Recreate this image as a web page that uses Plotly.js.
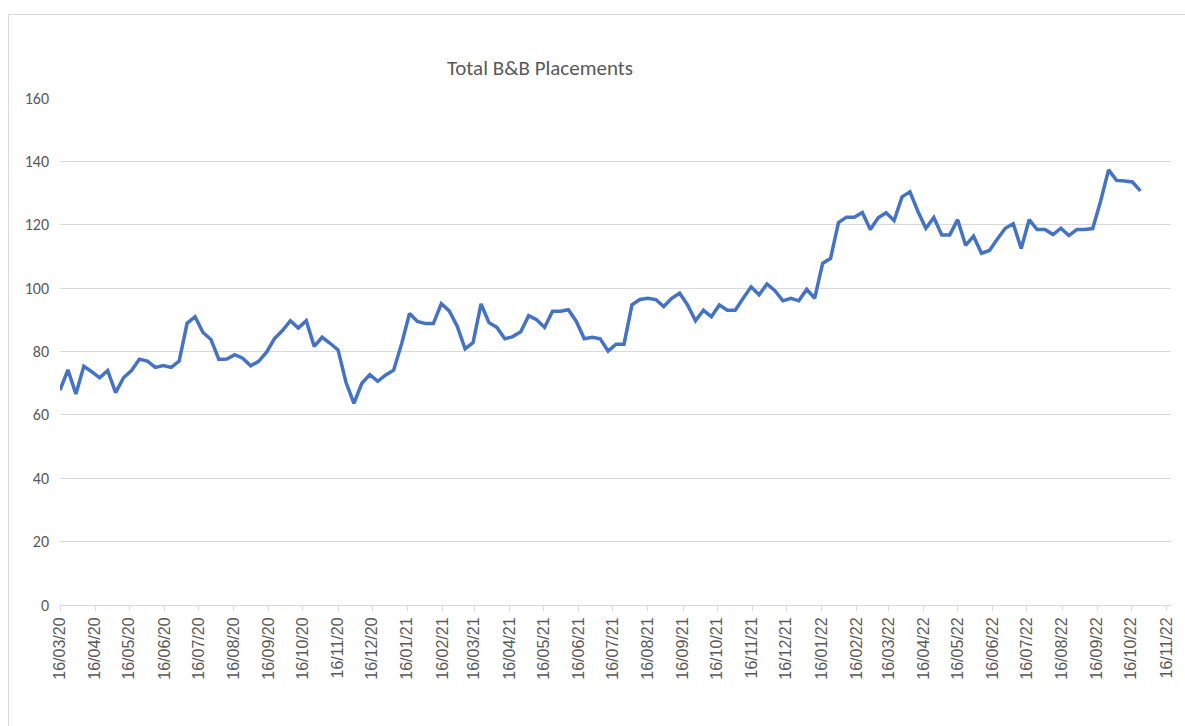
<!DOCTYPE html>
<html>
<head>
<meta charset="utf-8">
<script src="https://cdn.plot.ly/plotly-3.0.1.min.js"></script>
<style>
  html, body { margin: 0; padding: 0; background: #ffffff; }
  #marco {
    position: absolute; left: 8px; top: 14px;
    width: 1177px; height: 712px;
    border-left: 1px solid #d9d9d9; border-top: 1px solid #d9d9d9;
    box-sizing: border-box;
  }
  #grafica { width: 100%; height: 100%; }
</style>
</head>
<body>
<div id="marco"><div id="grafica"></div></div>
<script>
// weekly totals, first week starts 16/03/20
const fechaInicio = "2020-03-16";
const colocaciones = [
  67.8, 74.2, 66.6, 75.3, 73.6, 71.7, 74, 67, 71.7, 74,
  77.6, 77, 75, 75.6, 75, 77, 88.9, 91, 86, 83.8,
  77.5, 77.6, 79, 77.9, 75.5, 76.9, 79.8, 84.1, 86.6, 89.7,
  87.4, 89.7, 81.6, 84.5, 82.6, 80.5, 70.3, 63.6, 70, 72.7,
  70.6, 72.6, 74.1, 82.4, 92, 89.5, 88.8, 88.8, 95.1, 92.8,
  88, 80.8, 82.8, 95, 89.1, 87.6, 84, 84.7, 86.2, 91.3,
  90, 87.6, 92.7, 92.7, 93.2, 89.5, 84, 84.5, 84, 80.1,
  82.3, 82.3, 94.7, 96.4, 96.8, 96.4, 94.2, 96.8, 98.4, 94.7,
  89.7, 93, 91, 94.7, 93, 93, 96.8, 100.4, 97.9, 101.3,
  99.2, 96, 96.8, 96, 99.6, 96.8, 107.8, 109.4, 120.7, 122.4,
  122.4, 123.9, 118.5, 122.2, 123.8, 121.3, 128.8, 130.4, 124.2, 118.9,
  122.3, 116.8, 116.8, 121.6, 113.5, 116.4, 111, 111.9, 115.5, 118.9,
  120.3, 112.5, 121.6, 118.5, 118.5, 116.9, 118.9, 116.6, 118.5, 118.5,
  118.8, 127.5, 137.3, 134, 133.8, 133.5, 130.7
];
const ticksY = [0, 20, 40, 60, 80, 100, 120, 140, 160];
const rangoX = ["2020-03-16", "2022-11-20"];

function semanas(inicio, n) {
  const out = [];
  const d0 = new Date(inicio + "T00:00:00Z");
  for (let i = 0; i < n; i++) {
    const d = new Date(d0.getTime() + i * 7 * 86400000);
    out.push(d.toISOString().slice(0, 10));
  }
  return out;
}

const fechas = semanas(fechaInicio, colocaciones.length);

const traza = {
  x: fechas,
  y: colocaciones,
  type: "scatter",
  mode: "lines",
  line: { color: "#4472C4", width: 3.5 },
  hoverinfo: "skip"
};

const layout = {
  width: 1176,
  height: 711,
  margin: { l: 51, r: 14, t: 83, b: 121 },
  paper_bgcolor: "#ffffff",
  plot_bgcolor: "#ffffff",
  showlegend: false,
  title: {
    text: "Total B&B Placements",
    font: { family: "Carlito, Lato, sans-serif", size: 21, color: "#595959" },
    xref: "paper", x: 0.432, xanchor: "center",
    yref: "container", y: 0.926, yanchor: "middle"
  },
  xaxis: {
    type: "date",
    range: rangoX,
    tick0: fechaInicio,
    dtick: "M1",
    tickformat: "%d/%m/%y",
    tickangle: -90,
    ticks: "outside",
    ticklen: 5,
    tickcolor: "#d9d9d9",
    showline: true,
    linecolor: "#d9d9d9",
    linewidth: 1,
    showgrid: false,
    zeroline: false,
    tickfont: { family: "Liberation Sans, Arial, sans-serif", size: 16, color: "#595959" }
  },
  yaxis: {
    range: [0, 160],
    tickvals: ticksY,
    showgrid: true,
    gridcolor: "#d9d9d9",
    gridwidth: 1,
    zeroline: false,
    showline: false,
    ticks: "",
    ticklabelstandoff: 10,
    tickfont: { family: "Carlito, Lato, sans-serif", size: 16, color: "#595959" }
  }
};

Plotly.newPlot("grafica", [traza], layout, { displayModeBar: false, staticPlot: true });
</script>
</body>
</html>
